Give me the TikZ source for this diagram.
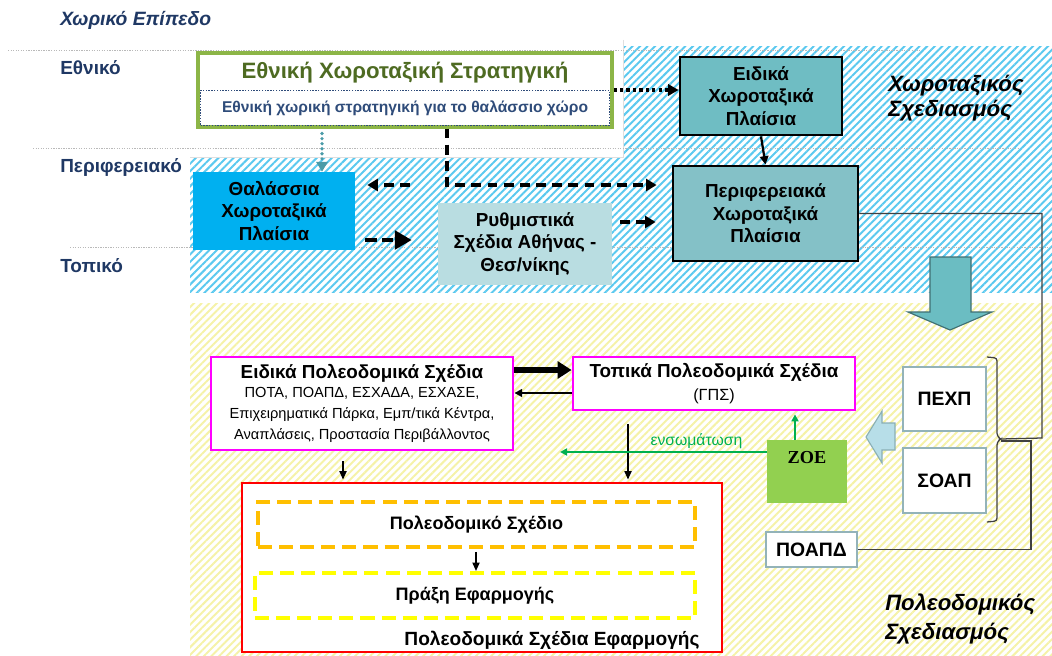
\documentclass[tikz,border=0pt]{standalone}
\usepackage{fontspec}
\setmainfont{Liberation Sans}
\newfontfamily\zoefont{Liberation Serif}
\usetikzlibrary{arrows.meta, patterns.meta, positioning}

\definecolor{navy}{HTML}{1F3864}
\definecolor{stratgreen}{HTML}{8CB547}
\definecolor{strattext}{HTML}{4E6B22}
\definecolor{innertext}{HTML}{2F4C7A}
\definecolor{tealA}{HTML}{6FBDC3}
\definecolor{tealB}{HTML}{84C1C7}
\definecolor{seablue}{HTML}{00B0F0}
\definecolor{rythfill}{HTML}{B9DDE1}
\definecolor{hatchblue}{HTML}{5BC9EF}
\definecolor{hatchyellow}{HTML}{F5F2A8}
\definecolor{plmagenta}{HTML}{FF00FF}
\definecolor{orangedash}{HTML}{FFBF00}
\definecolor{yellowdash}{HTML}{FFFF00}
\definecolor{zoegreen}{HTML}{92D050}
\definecolor{smallborder}{HTML}{93B3B9}
\definecolor{greenarrow}{HTML}{00B050}
\definecolor{tealdot}{HTML}{4A9BA8}
\definecolor{blockteal}{HTML}{6BBDC2}
\definecolor{blocktealdark}{HTML}{3F6F73}
\definecolor{lightblock}{HTML}{B7DEE8}
\definecolor{lightblockdark}{HTML}{8AAFB5}

\tikzset{
	sz/.style 2 args = {minimum width = #1*0.025cm, minimum height = #2*0.025cm},
	hatch/.style = {pattern = {Lines[angle = 45, distance = 3.8pt, line width = 1.4pt]}, pattern color = #1},
	levelline/.style = {gray!55, line width = 0.7pt, dash pattern = on 0.9pt off 0.9pt},
	levellabel/.style = {anchor = west, inner sep = 0pt, text = navy, font = \fontsize{13.5}{16}\selectfont\bfseries},
	plantitle/.style = {anchor = west, inner sep = 0pt, align = left, font = \fontsize{15.8}{19}\selectfont\bfseries\itshape},
	boxtext/.style = {inner sep = 0pt, align = center, font = \fontsize{13.4}{16}\selectfont\bfseries},
	tealbox/.style = {boxtext, draw = black, line width = 2pt, fill = tealA},
	plbox/.style = {boxtext, draw = plmagenta, line width = 2pt, fill = white},
	smallbox/.style = {boxtext, draw = smallborder, line width = 1.6pt, fill = white, font = \fontsize{13.8}{15}\selectfont\bfseries},
	dashbox/.style = {boxtext, line width = 2.8pt, dash pattern = on 10pt off 5pt, font = \fontsize{12.8}{14}\selectfont\bfseries},
	dsh/.style = {line width = 2.4pt, dash pattern = on 7pt off 4.5pt, -{Triangle[length = 7.5pt, width = 8.5pt]}},
	dotarrow/.style = {line width = 2.4pt, dash pattern = on 2.2pt off 2.4pt, -{Triangle[length = 7.5pt, width = 8pt]}},
	plarrow/.style = {line width = 1.2pt, -{Triangle[length = 6pt, width = 5pt]}},
	greenarr/.style = {greenarrow, line width = 1.5pt, -{Triangle[length = 5pt, width = 5pt]}},
	wire/.style = {black!75, line width = 0.9pt},
}

\begin{document}
\begin{tikzpicture}[x = 0.025cm, y = -0.025cm]
	\useasboundingbox (0,0) rectangle (1052,656);

	% hatched planning areas
	\fill [hatch = hatchblue] (190,47) rectangle (1052,292);
	\fill [white] (185,40) rectangle (623,157);
	\draw [gray!25, line width = 0.6pt] (623,40) -- (623,157) -- (190,157);
	\fill [hatch = hatchyellow] (190,303) rectangle (1052,656);

	% levels
	\draw [levelline] (8,50) -- (920,50);
	\draw [levelline] (33,148) -- (1020,148);
	\draw [levelline] (70,247) -- (1052,247);

	\node [levellabel, font = \fontsize{13.7}{16}\selectfont\bfseries\itshape] (leveltitle) at (60,20) {Χωρικό Επίπεδο};
	\node [levellabel] (lvlnat) at (60,68) {Εθνικό};
	\node [levellabel] (lvlreg) at (60,167) {Περιφερειακό};
	\node [levellabel] (lvlloc) at (60,266) {Τοπικό};

	\node [plantitle, font = \fontsize{15.8}{18}\selectfont\bfseries\itshape] (spatial) at (888,98) {Χωροταξικός\\Σχεδιασμός};
	\node [plantitle, font = \fontsize{15.8}{20}\selectfont\bfseries\itshape] (urban) at (885,619) {Πολεοδομικός\\Σχεδιασμός};

	% spatial planning
	\node [draw = stratgreen, line width = 2.2pt, fill = white, sz = {414}{74}] (strat) at (405,90) {};
	\node [inner sep = 0pt, text = strattext, font = \fontsize{15.8}{18}\selectfont\bfseries] (strattitle) at (405,73) {Εθνική Χωροταξική Στρατηγική};
	\node [draw = innertext, line width = 1.1pt, dash pattern = on 1pt off 1pt, inner sep = 0pt, sz = {409}{35}, text = innertext, font = \fontsize{11.1}{13}\selectfont\bfseries] (stratin) at (405,108) {Εθνική χωρική στρατηγική για το θαλάσσιο χώρο};

	\node [tealbox, sz = {162}{78}] (ekp) at (761,96) {Ειδικά\\Χωροταξικά\\Πλαίσια};
	\node [tealbox, fill = tealB, sz = {185}{95}] (perif) at (765.5,213.5) {Περιφερειακά\\Χωροταξικά\\Πλαίσια};
	\node [boxtext, fill = seablue, sz = {162}{78}] (thal) at (274,211) {Θαλάσσια\\Χωροταξικά\\Πλαίσια};
	\node [boxtext, fill = rythfill, sz = {174}{82}] (ryth) at (525,244) {Ρυθμιστικά\\Σχέδια Αθήνας -\\Θεσ/νίκης};

	\draw [dotarrow] (strat.east) -- (strat.east -| ekp.west);
	\draw [tealdot, line width = 2.6pt, line cap = round, dash pattern = on 0pt off 3.6pt, -{Triangle[length = 7pt, width = 8pt]}] (strat.south -| 322,0) ++(0,5) -- (thal.north -| 322,0);
	\draw [dsh, shorten > = 15*0.025cm] (strat.south -| 447,0) |- (perif.west |- 0,185);
	\coordinate (seastart) at (410,185);
	\draw [dsh] (seastart) -- ([xshift = 12*0.025cm]thal.east |- seastart);
	\draw [line width = 3pt, dash pattern = on 8pt off 4pt, -{Triangle[length = 12pt, width = 13pt]}, shorten < = 10*0.025cm, shorten > = 26*0.025cm] (thal.east |- 0,240) -- (ryth.west |- 0,240);
	\draw [dsh, shorten < = 8*0.025cm, shorten > = 16*0.025cm] (ryth.east |- 0,222) -- (perif.west |- 0,222);
	\draw [line width = 1.6pt, -{Triangle[length = 6pt, width = 6pt]}] (ekp.south) -- (perif.north);

	% transfer to urban planning
	\draw [blocktealdark, fill = blockteal, line width = 0.8pt] (930,257) -- (971,257) -- (971,312) -- (992,312) -- (950,330) -- (908,312) -- (930,312) -- cycle;

	% urban planning
	\node [plbox, sz = {302}{93}] (eps) at (362,403.5) {Ειδικά Πολεοδομικά Σχέδια\\[-3pt]{\fontsize{10.4}{12.4}\selectfont\mdseries ΠΟΤΑ, ΠΟΑΠΔ, ΕΣΧΑΔΑ, ΕΣΧΑΣΕ,}\\[-1pt]{\fontsize{10.4}{12.4}\selectfont\mdseries Επιχειρηματικά Πάρκα, Εμπ/τικά Κέντρα,}\\[-1pt]{\fontsize{10.4}{12.4}\selectfont\mdseries Αναπλάσεις, Προστασία Περιβάλλοντος}};
	\node [plbox, sz = {282}{53}] (top) at (714,383.5) {Τοπικά Πολεοδομικά Σχέδια\\{\fontsize{11.5}{13}\selectfont\mdseries (ΓΠΣ)}};
	\node [fill = zoegreen, sz = {80}{63}] (zoe) at (807,471.5) {};
	\node [inner sep = 0pt, font = \fontsize{13}{15}\selectfont\zoefont\bfseries] (zoelabel) at (807,458) {ΖΟΕ};
	\node [smallbox, sz = {83}{64}] (pexp) at (944.5,399) {ΠΕΧΠ};
	\node [smallbox, sz = {83}{65}] (soap) at (944.5,480.5) {ΣΟΑΠ};
	\node [smallbox, sz = {91}{35}] (poapd) at (811.5,549.5) {ΠΟΑΠΔ};

	\node [draw = red, line width = 2pt, fill = white, sz = {480}{169}] (red) at (482,567.5) {};
	\node [dashbox, draw = orangedash, sz = {437}{45}] (urbplan) at (476.5,524.5) {Πολεοδομικό Σχέδιο};
	\node [dashbox, draw = yellowdash, sz = {440}{45}] (implact) at (475,595.5) {Πράξη Εφαρμογής};
	\node [boxtext, font = \fontsize{13.6}{15}\selectfont\bfseries] (redlabel) at (552,640) {Πολεοδομικά Σχέδια Εφαρμογής};

	\draw [plarrow, shorten < = 3*0.025cm] (urbplan.south -| 476,0) -- (implact.north -| 476,0);
	\draw [line width = 4.2pt, -{Triangle[length = 10pt, width = 12pt]}] (eps.east |- 0,370) -- (top.west |- 0,370);
	\draw [line width = 1.6pt, -{Triangle[length = 5.5pt, width = 5.5pt]}] (top.west |- 0,393) -- (eps.east |- 0,393);
	\draw [plarrow, shorten < = 10*0.025cm, shorten > = 2*0.025cm] (eps.south -| 343,0) -- (red.north -| 343,0);
	\draw [plarrow, shorten < = 13*0.025cm, shorten > = 2*0.025cm] (top.south -| 628,0) -- (red.north -| 628,0);

	\coordinate (embedend) at (560,452);
	\draw [greenarr] (zoe.west |- embedend) -- (embedend) node [pos = 0.34, above = 1.5pt, inner sep = 0pt, font = \fontsize{11.2}{13}\selectfont, text = greenarrow] (embedlabel) {ενσωμάτωση};
	\draw [greenarr] (zoe.north -| 795,0) -- ([yshift = -3*0.025cm]top.south -| 795,0);

	\draw [lightblockdark, fill = lightblock, line width = 0.8pt] (895,423) -- (882,423) -- (882,411) -- (866,437) -- (882,463) -- (882,450) -- (895,450) -- cycle;

	% bracket and links
	\coordinate (brtip) at (1001,439);
	\draw [wire, rounded corners = 2pt] (987,357) -- (997,358) -- (997,436) -- (brtip) -- (997,442) -- (997,521) -- (987,522);
	\draw [wire] (perif.east) -| (1042,438) -- (brtip);
	\draw [wire] (brtip) ++(0,2) -| (poapd.east -| 1031,0) -- (poapd.east);
\end{tikzpicture}
\end{document}
